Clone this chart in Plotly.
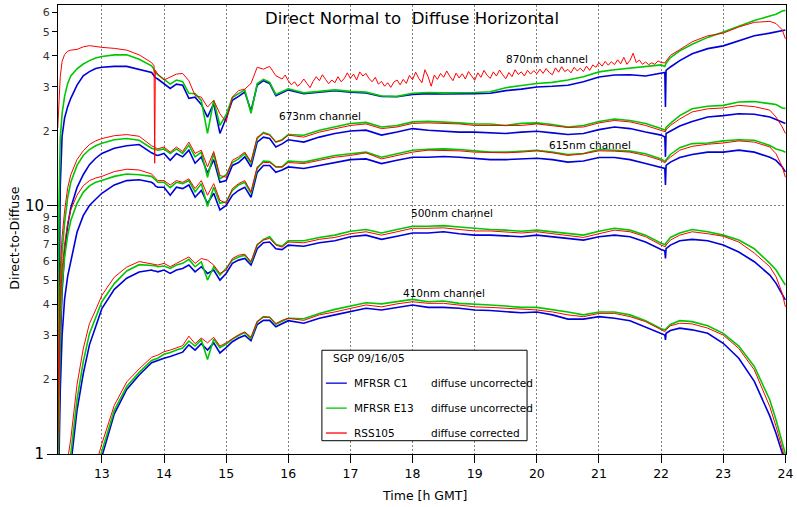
import plotly.graph_objects as go
import math

# ---------------- data ----------------
T = [12.29, 12.31, 12.33, 12.36, 12.40, 12.45, 12.50, 12.60, 12.70, 12.80, 12.90, 13.00, 13.20, 13.40, 13.60,
     13.80, 13.84, 13.85, 13.86, 13.90,
     14.0, 14.1, 14.2, 14.3, 14.4, 14.5, 14.6, 14.7, 14.8, 14.9, 15.0, 15.1, 15.2, 15.3, 15.4, 15.5, 15.6, 15.7, 15.8, 15.9, 16.0,
     16.25, 16.5, 16.75, 17.0, 17.25, 17.5, 17.75, 18.0, 18.25, 18.5, 18.75, 19.0, 19.25, 19.5, 19.75, 20.0,
     20.25, 20.5, 20.75, 21.0, 21.25, 21.5, 21.75, 22.0,
     22.06, 22.07, 22.08, 22.15, 22.3,
     22.5, 22.75, 23.0, 23.25, 23.5, 23.75, 23.85, 23.95, 24.0]

# 870 nm
C1_870 = [0.8, 5, 12, 19, 22.5, 25, 27, 30.5, 33.3, 34.6, 35.6, 36.0, 36.3, 36.3, 35.3,
          34.3, 33.3, 33.0, 32.7, 32.3,
          31.0, 29.6, 30.8, 30.5, 27.0, 27.3, 25.5, 22.7, 25.7, 19.5, 22.5, 26.5, 27.5, 28.6, 24.0, 30.5, 31.8, 31.0, 27.7, 28.5, 29.2,
          28.2, 28.5, 29.0, 28.6, 28.4, 27.5, 27.4, 28.0, 28.2, 28.1, 28.1, 28.2, 28.3, 29.0, 29.4, 30.0,
          30.2, 30.5, 31.5, 32.9, 33.5, 33.6, 33.2, 34.2,
          34.3, 24.9, 35.0, 36.1, 38.3,
          40.8, 42.8, 43.9, 46.1, 48.2, 49.4, 49.9, 50.4, 50.9]
E13_870 = [2.0, 10, 18.5, 23.5, 27.5, 31.0, 33.2, 35.5, 37.1, 38.3, 39.2, 39.8, 40.4, 40.4, 38.8,
           36.5, 35.3, 34.8, 34.3, 33.6,
           32.2, 30.8, 32.0, 31.5, 28.3, 28.2, 26.5, 19.5, 26.5, 21.0, 23.2, 27.2, 28.2, 29.2, 23.5, 31.0, 32.2, 31.3, 28.0, 28.8, 29.5,
           28.4, 28.7, 29.2, 28.8, 28.6, 27.6, 27.5, 28.3, 28.5, 28.4, 28.4, 28.5, 28.7, 29.8, 30.4, 31.0,
           31.3, 32.0, 33.0, 34.5, 35.2, 35.7, 36.1, 36.8,
           36.3, 36.8, 37.4, 39.4, 41.9,
           44.6, 47.5, 49.9, 52.8, 55.5, 57.9, 58.9, 60.7, 61.0]
# RSS105 870 nm is visibly noisy: early part, dense middle part, late part
RSS_870_T_EARLY = [12.29, 12.31, 12.33, 12.36, 12.40, 12.45, 12.50, 12.60, 12.70, 12.80, 12.90, 13.00, 13.20, 13.40,
                   13.60, 13.80, 13.84, 13.85, 13.86, 13.90, 14.0, 14.1, 14.2, 14.3, 14.4, 14.5, 14.6, 14.7, 14.8,
                   14.9, 15.0, 15.1, 15.2, 15.3, 15.4, 15.5, 15.6, 15.7, 15.8]
RSS_870_EARLY = [20.5, 25, 33, 38, 40.5, 41.8, 42.2, 42.5, 43.5, 44.0, 43.6, 43.3, 42.9, 42.2,
                 40.4, 37.6, 36.5, 14.8, 35.0, 33.8, 32.0, 32.9, 33.8, 34.0, 31.8, 27.7, 27.3, 24.9, 26.5,
                 23.4, 21.7, 27.3, 29.0, 29.4, 31.0, 36.0, 35.4, 36.3, 33.3]
RSS_870_T_MID = [round(15.90 + 0.05 * i, 2) for i in range(123)]
RSS_870_MID = [32.3, 33.5, 31.8, 30.6, 31.5, 30.2, 31.0, 32.3, 31.0, 29.8, 31.6, 33.0, 31.8, 33.6, 32.2, 30.9,
               32.0, 31.2, 33.0, 31.5, 32.4, 34.2, 32.5, 33.8, 32.0, 34.5, 33.2, 34.0, 32.4, 31.5, 32.8, 30.8,
               31.6, 30.2, 31.2, 29.9, 31.4, 32.0, 30.6, 32.2, 31.0, 33.4, 32.1, 34.4, 32.5, 31.2, 35.2, 33.0,
               30.2, 33.5, 32.2, 34.0, 32.8, 34.8, 33.1, 31.8, 34.1, 32.6, 33.9, 32.3, 34.6, 33.0, 31.9, 34.2,
               32.8, 35.0, 33.4, 32.5, 34.5, 33.2, 35.1, 33.6, 32.4, 34.3, 33.0, 35.2, 33.7, 34.5, 33.2, 35.0,
               33.8, 34.9, 33.9, 35.4, 34.0, 35.6, 34.3, 33.6, 35.8, 34.4, 36.2, 34.6, 35.3, 34.2, 36.0, 34.8,
               35.7, 34.6, 36.4, 35.0, 36.8, 36.0, 37.6, 36.4, 38.0, 36.7, 37.9, 36.9, 38.6, 37.2, 39.5, 37.0,
               38.4, 41.0, 37.6, 38.5, 37.0, 37.8, 36.9, 37.5, 37.0, 38.2, 37.6]
RSS_870_T_LATE = [22.06, 22.07, 22.08, 22.15, 22.3, 22.5, 22.75, 23.0, 23.25, 23.5, 23.75, 23.85, 23.95, 24.0]
RSS_870_LATE = [37.5, 37.8, 38.2, 40.2, 42.4, 45.6, 48.2, 49.4, 52.3, 54.6, 55.1, 54.0, 50.9, 46.9]

# 673 nm
C1_673 = [0.6, 1.5, 2.8, 4.5, 6.5, 8.3, 9.8, 11.8, 13.3, 14.6, 15.5, 16.2, 17.0, 17.4, 17.6,
          16.3, 16.1, 16.0, 16.0, 15.9,
          16.2, 15.2, 16.2, 15.7, 16.7, 14.8, 15.7, 13.5, 15.3, 12.4, 12.6, 14.5, 14.9, 15.7, 14.3, 18.0, 18.85, 18.6, 17.2, 17.7, 18.4,
          18.0, 18.85, 19.5, 19.95, 20.1, 19.2, 19.75, 20.4, 20.1, 19.95, 19.75, 19.75, 19.6, 19.5, 19.75, 19.9,
          19.6, 19.3, 19.5, 20.2, 20.7, 20.4, 19.75, 19.2,
          18.85, 15.7, 19.5, 19.95, 20.9,
          21.8, 22.7, 23.0, 23.4, 23.3, 22.7, 22.2, 21.7, 21.4]
E13_673 = [0.8, 2.5, 4.5, 6.5, 8.5, 10.8, 12.4, 14.5, 15.9, 16.8, 17.4, 17.8, 18.4, 18.6, 18.3,
           17.0, 16.9, 16.8, 16.8, 16.7,
           16.9, 16.2, 16.9, 16.2, 17.5, 15.7, 16.4, 13.0, 16.2, 12.8, 13.3, 14.9, 15.4, 16.2, 14.8, 18.6, 19.7, 19.3, 18.0, 18.4, 19.3,
           19.17, 20.1, 20.7, 21.4, 21.6, 20.7, 21.0, 21.7, 21.8, 21.7, 21.5, 21.3, 21.3, 21.0, 21.4, 21.5,
           21.2, 20.7, 21.0, 21.8, 22.3, 22.0, 21.4, 20.4,
           20.1, 20.1, 20.6, 21.4, 23.0,
           24.5, 25.1, 25.3, 26.1, 26.2, 25.7, 25.5, 24.7, 24.6]
RSS_673 = [1.2, 3.5, 5.5, 7.5, 9.5, 11.8, 13.3, 15.3, 16.6, 17.6, 18.2, 18.6, 19.1, 19.3, 19.0,
           17.4, 17.2, 17.1, 17.0, 16.9,
           17.2, 16.4, 17.2, 16.5, 18.0, 16.2, 16.7, 14.3, 16.5, 13.2, 13.0, 15.2, 15.7, 16.4, 15.0, 18.85, 19.5, 19.2, 18.0, 18.3, 19.2,
           18.85, 19.75, 20.4, 21.0, 21.3, 20.4, 20.7, 21.4, 21.5, 21.4, 21.3, 21.0, 21.0, 20.9, 21.0, 21.3,
           20.9, 20.6, 20.7, 21.5, 22.0, 21.7, 21.0, 20.1,
           19.75, 19.8, 20.2, 21.0, 22.3,
           23.8, 24.5, 24.7, 25.3, 25.0, 24.2, 22.7, 20.7, 19.5]

# 615 nm
C1_615 = [0.5, 1.0, 1.8, 3.0, 4.2, 5.2, 6.0, 7.8, 9.1, 10.0, 10.6, 11.2, 12.1, 12.6, 12.7,
          12.4, 12.2, 12.1, 12.0, 11.85,
          11.85, 11.0, 11.85, 11.7, 12.1, 10.8, 11.5, 10.2, 11.2, 9.6, 10.0, 11.0, 11.5, 11.85, 10.8, 13.6, 14.5, 14.5, 13.6, 13.9, 14.3,
          14.1, 14.5, 14.95, 15.3, 15.4, 14.75, 15.2, 15.65, 15.65, 15.75, 15.65, 15.5, 15.3, 15.3, 15.4, 15.5,
          15.3, 14.95, 15.1, 15.6, 15.6, 15.3, 14.75, 14.3,
          14.1, 12.1, 14.5, 14.95, 15.6,
          16.05, 16.4, 16.4, 16.7, 16.4, 15.65, 15.2, 14.3, 13.65]
E13_615 = [0.7, 1.8, 3.2, 4.8, 6.2, 7.6, 8.7, 10.2, 11.3, 12.0, 12.4, 12.6, 13.1, 13.4, 13.3,
           13.1, 12.9, 12.8, 12.7, 12.4,
           12.4, 11.8, 12.4, 12.25, 12.6, 11.35, 12.25, 9.9, 11.85, 10.2, 10.35, 11.5, 12.1, 12.4, 11.2, 14.1, 15.1, 15.05, 14.3, 14.3, 15.1,
           14.95, 15.4, 15.9, 16.15, 16.4, 15.65, 16.15, 16.7, 16.85, 16.9, 16.8, 16.55, 16.4, 16.4, 16.55, 16.7,
           16.4, 16.05, 16.2, 16.8, 16.7, 16.55, 16.15, 15.4,
           15.05, 15.1, 15.3, 16.05, 17.1,
           17.75, 17.85, 18.2, 18.4, 18.3, 17.45, 16.9, 16.6, 16.4]
RSS_615 = [1.0, 2.5, 4.0, 5.5, 7.0, 8.5, 9.6, 11.0, 12.0, 12.6, 12.9, 13.1, 13.7, 14.0, 13.9,
           13.4, 13.1, 13.0, 12.9, 12.6,
           12.6, 12.1, 12.6, 12.4, 12.8, 11.7, 12.6, 11.0, 12.25, 10.5, 10.2, 11.7, 12.25, 12.6, 11.35, 14.3, 14.9, 14.9, 14.3, 14.3, 14.9,
           14.75, 15.2, 15.65, 15.9, 16.3, 15.4, 15.9, 16.4, 16.7, 16.7, 16.6, 16.4, 16.3, 16.3, 16.4, 16.6,
           16.3, 15.9, 16.15, 16.6, 16.55, 16.4, 15.9, 15.2,
           14.85, 14.9, 15.1, 15.65, 16.7,
           17.3, 17.65, 17.85, 18.2, 18.0, 17.2, 16.15, 14.3, 13.0]

# 500 nm
C1_500 = [None, None, None, None, None, 0.7, 0.9, 1.5, 2.1, 2.75, 3.25, 3.85, 4.6, 5.1, 5.4,
          5.50, 5.45, 5.45, 5.45, 5.41,
          5.50, 5.33, 5.50, 5.58, 5.76, 5.41, 5.67, 5.33, 5.50, 5.01, 5.33, 5.85, 6.03, 6.12, 5.76, 6.70, 7.08, 7.13, 6.70, 6.65, 6.93,
          6.86, 7.08, 7.21, 7.49, 7.60, 7.31, 7.52, 7.75, 7.75, 7.84, 7.70, 7.60, 7.60, 7.52, 7.49, 7.60,
          7.49, 7.37, 7.26, 7.49, 7.60, 7.49, 7.13, 6.65,
          6.57, 6.12, 6.70, 6.93, 7.21,
          7.31, 7.21, 6.93, 6.50, 5.94, 5.25, 4.86, 4.36, 4.17]
E13_500 = [None, None, None, None, 0.65, 0.8, 1.0, 1.65, 2.35, 3.05, 3.55, 4.1, 4.85, 5.45, 5.78,
           5.76, 5.72, 5.72, 5.72, 5.67,
           5.71, 5.58, 5.76, 5.85, 6.07, 5.67, 5.94, 5.01, 5.67, 5.25, 5.58, 6.03, 6.21, 6.31, 5.89, 6.93, 7.31, 7.49, 6.99, 6.86, 7.21,
           7.21, 7.44, 7.60, 7.88, 8.01, 7.75, 8.01, 8.25, 8.25, 8.30, 8.20, 8.10, 8.01, 7.96, 7.88, 7.96,
           7.84, 7.70, 7.60, 7.88, 8.10, 7.96, 7.60, 7.05,
           6.93, 6.95, 7.08, 7.44, 7.75,
           8.01, 7.84, 7.60, 7.26, 6.70, 5.85, 5.50, 5.01, 4.79]
RSS_500 = [None, None, None, 0.6, 0.75, 0.95, 1.15, 1.9, 2.65, 3.35, 3.8, 4.35, 5.15, 5.65, 5.95,
           5.85, 5.8, 5.8, 5.8, 5.76,
           5.85, 5.67, 5.85, 6.03, 6.21, 5.85, 6.12, 6.03, 5.76, 5.33, 5.50, 6.12, 6.31, 6.37, 5.94, 6.99, 7.26, 7.38, 6.93, 6.80, 7.13,
           7.08, 7.31, 7.44, 7.70, 7.84, 7.60, 7.84, 8.10, 8.10, 8.13, 8.01, 7.90, 7.90, 7.84, 7.75, 7.84,
           7.70, 7.60, 7.44, 7.70, 7.96, 7.84, 7.49, 6.93,
           6.80, 6.82, 6.93, 7.26, 7.60,
           7.84, 7.70, 7.52, 7.13, 6.44, 5.67, 5.17, 4.42, 3.91]

# 410 nm
C1_410 = [None] * 10 + [0.8, 0.98, 1.45, 1.82, 2.08,
          2.33, 2.35, 2.36, 2.36, 2.38,
          2.43, 2.47, 2.52, 2.57, 2.75, 2.62, 2.78, 2.62, 2.80, 2.55, 2.68, 2.83, 2.93, 3.0, 2.86, 3.32, 3.45, 3.45, 3.25, 3.35, 3.44,
          3.36, 3.52, 3.63, 3.73, 3.86, 3.80, 3.89, 3.98, 3.89, 3.89, 3.86, 3.80, 3.78, 3.73, 3.70, 3.73,
          3.63, 3.49, 3.49, 3.57, 3.52, 3.44, 3.25, 3.06,
          3.01, 2.88, 3.06, 3.14, 3.21,
          3.16, 3.06, 2.79, 2.43, 1.96, 1.42, 1.21, 1.02, 0.92]
E13_410 = [None] * 10 + [0.85, 1.03, 1.5, 1.87, 2.13,
           2.38, 2.40, 2.41, 2.41, 2.43,
           2.52, 2.56, 2.62, 2.67, 2.85, 2.72, 2.88, 2.40, 2.90, 2.68, 2.77, 2.90, 3.0, 3.08, 2.92, 3.40, 3.57, 3.55, 3.33, 3.43, 3.52,
           3.5, 3.68, 3.82, 3.95, 4.06, 4.02, 4.10, 4.19, 4.10, 4.13, 4.04, 4.02, 3.98, 3.94, 3.89, 3.89,
           3.82, 3.73, 3.63, 3.73, 3.73, 3.63, 3.44, 3.19,
           3.16, 3.17, 3.19, 3.32, 3.44,
           3.41, 3.28, 3.06, 2.72, 2.25, 1.65, 1.37, 1.11, 1.0]
RSS_410 = [None] * 10 + [0.9, 1.1, 1.57, 1.95, 2.2,
           2.45, 2.47, 2.48, 2.48, 2.50,
           2.58, 2.62, 2.68, 2.73, 2.98, 2.78, 2.93, 2.80, 2.95, 2.72, 2.80, 2.92, 3.02, 3.10, 2.95, 3.42, 3.55, 3.55, 3.35, 3.45, 3.52,
           3.45, 3.63, 3.73, 3.86, 3.98, 3.91, 4.02, 4.10, 4.04, 4.04, 3.98, 3.91, 3.89, 3.86, 3.82, 3.80,
           3.73, 3.63, 3.57, 3.68, 3.68, 3.57, 3.41, 3.16,
           3.11, 3.12, 3.16, 3.28, 3.36,
           3.34, 3.21, 3.01, 2.66, 2.18, 1.55, 1.29, 1.06, 0.95]

CHANNEL_LABELS = ["870nm channel", "673nm channel", "615nm channel", "500nm channel", "410nm channel"]
LABEL_T = [20.16, 16.51, 20.85, 18.63, 18.50]
LABEL_V = [38.9, 22.9, 17.5, 9.3, 4.43]

Y_MAJOR = [1, 10]
Y_MINOR = [2, 3, 4, 5, 6, 7, 8, 9, 20, 30, 40, 50, 60]
Y_MINOR_TEXT = ["2", "3", "4", "5", "6", "7", "8", "9", "2", "3", "4", "5", "6"]
X_TICKS = list(range(13, 25))

BLUE, GREEN, RED = "#0000d8", "#00c800", "#ff0000"

RSS_870_T = RSS_870_T_EARLY + RSS_870_T_MID + RSS_870_T_LATE
RSS_870 = RSS_870_EARLY + RSS_870_MID + RSS_870_LATE

traces = [
    (T, C1_870, BLUE, 1.6), (T, C1_673, BLUE, 1.6), (T, C1_615, BLUE, 1.6), (T, C1_500, BLUE, 1.6), (T, C1_410, BLUE, 1.6),
    (T, E13_870, GREEN, 1.6), (T, E13_673, GREEN, 1.6), (T, E13_615, GREEN, 1.6), (T, E13_500, GREEN, 1.6), (T, E13_410, GREEN, 1.6),
    (RSS_870_T, RSS_870, RED, 1.0), (T, RSS_673, RED, 1.0), (T, RSS_615, RED, 1.0), (T, RSS_500, RED, 1.0), (T, RSS_410, RED, 1.0),
]

fig = go.Figure()
for xs, ys, col, w in traces:
    fig.add_trace(go.Scatter(x=xs, y=ys, mode="lines", line=dict(color=col, width=w),
                             showlegend=False, hoverinfo="skip"))
# dummy trace for the overlaid labelled minor-tick axis
fig.add_trace(go.Scatter(x=[None], y=[None], yaxis="y2", showlegend=False))

FONT = "DejaVu Sans"
YR = [0, 1.807]
fig.update_layout(
    width=797, height=507,
    margin=dict(l=58, r=8, t=4, b=53),
    plot_bgcolor="white", paper_bgcolor="white",
    showlegend=False,
    font=dict(family=FONT, color="black"),
    xaxis=dict(range=[12.294, 24.01], tickvals=X_TICKS, ticks="outside", ticklen=8,
               tickcolor="black", showline=True, linecolor="black", linewidth=1, mirror=True,
               showgrid=True, gridcolor="#808080", griddash="2px,2px", gridwidth=1,
               zeroline=False, tickfont=dict(size=12.5, family=FONT)),
    yaxis=dict(type="log", range=YR, tickvals=Y_MAJOR, ticktext=["1", "10"], ticks="outside",
               ticklen=10, tickcolor="black", showline=True, linecolor="black", linewidth=1,
               mirror=True, showgrid=True, gridcolor="#808080", griddash="2px,2px", gridwidth=1,
               zeroline=False, tickfont=dict(size=15, family=FONT)),
    yaxis2=dict(type="log", range=YR, overlaying="y", side="left", anchor="x",
                tickvals=Y_MINOR, ticktext=Y_MINOR_TEXT, ticks="outside", ticklen=5,
                tickcolor="black", showline=False, showgrid=False, zeroline=False,
                tickfont=dict(size=11, family=FONT, color="#333")),
)

# channel labels
for txt, t, v in zip(CHANNEL_LABELS, LABEL_T, LABEL_V):
    fig.add_annotation(x=t, y=math.log10(v), xref="x", yref="y", text=txt, showarrow=False,
                       font=dict(size=10.5, family=FONT, color="black"), xanchor="center", yanchor="middle")

# title inside plot
fig.add_annotation(x=0.4856, y=0.971, xref="paper", yref="paper",
                   text="Direct Normal to\u00a0 Diffuse Horizontal", showarrow=False,
                   font=dict(size=16.5, family=FONT, color="black"), xanchor="center", yanchor="middle")
# axis titles
fig.add_annotation(x=-0.0602, y=0.48, xref="paper", yref="paper", text="Direct-to-Diffuse",
                   textangle=-90, showarrow=False, font=dict(size=12.5, family=FONT),
                   xanchor="center", yanchor="middle")
fig.add_annotation(x=0.504, y=-0.0933, xref="paper", yref="paper", text="Time [h GMT]",
                   showarrow=False, font=dict(size=12.5, family=FONT), xanchor="center", yanchor="middle")

# legend box (drawn manually)
fig.add_shape(type="rect", xref="paper", yref="paper", x0=0.3625, x1=0.6443, y0=0.0296, y1=0.2311,
              line=dict(color="black", width=1), fillcolor="white", layer="above")
fig.add_annotation(x=0.3748, y=0.2133, xref="paper", yref="paper", text="SGP 09/16/05",
                   showarrow=False, font=dict(size=10.5, family=FONT), xanchor="left", yanchor="middle")
leg_rows = [(BLUE, "MFRSR C1", "diffuse uncorrected", 0.1578),
            (GREEN, "MFRSR E13", "diffuse uncorrected", 0.1022),
            (RED, "RSS105", "diffuse corrected", 0.0467)]
for col, name, desc, yy in leg_rows:
    fig.add_shape(type="line", xref="paper", yref="paper", x0=0.368, x1=0.3967, y0=yy, y1=yy,
                  line=dict(color=col, width=1.3), layer="above")
    fig.add_annotation(x=0.4036, y=yy, xref="paper", yref="paper", text=name, showarrow=False,
                       font=dict(size=10.5, family=FONT), xanchor="left", yanchor="middle")
    fig.add_annotation(x=0.5103, y=yy, xref="paper", yref="paper", text=desc, showarrow=False,
                       font=dict(size=10.5, family=FONT), xanchor="left", yanchor="middle")

fig.write_html("out.html")
